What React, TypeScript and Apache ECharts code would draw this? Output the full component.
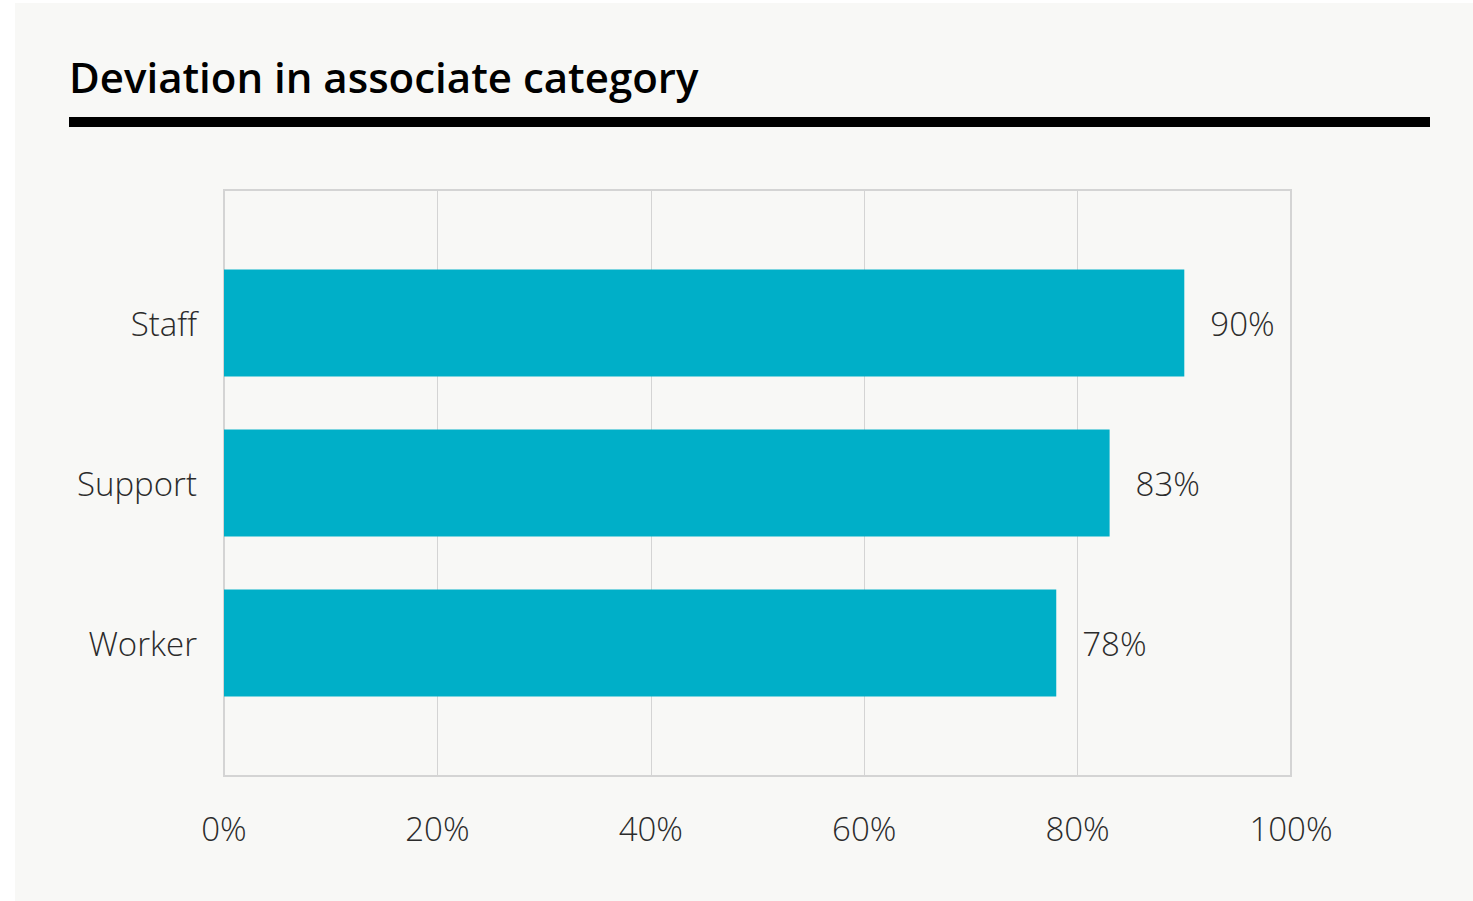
import React, { useEffect, useRef } from "react";
import * as echarts from "echarts";

const categories = ["Staff", "Support", "Worker"];
const values = [90, 83, 78];
const xTicks = [0, 20, 40, 60, 80, 100];
const titleText = "Deviation in associate category";

export default function App() {
  const ref = useRef<HTMLDivElement>(null);
  useEffect(() => {
    if (!ref.current) return;
    const chart = echarts.init(ref.current, undefined, { renderer: "svg" });
    const labelFont = { fontFamily: "Open Sans", fontWeight: 300 as any, fontSize: 33, color: "#2b2b2b" };
    chart.setOption({
      animation: false,
      backgroundColor: "#ffffff",
      graphic: [
        { type: "rect", z: -10, shape: { x: 15, y: 3, width: 1458, height: 898 }, style: { fill: "#f8f8f6" } },
        { type: "rect", z: 10, shape: { x: 69, y: 117, width: 1361, height: 10 }, style: { fill: "#000000" } },
        {
          type: "text", z: 10, x: 69, y: 55,
          style: { text: titleText, fontFamily: "Open Sans", fontWeight: 600, fontSize: 42, fill: "#000", verticalAlign: "top" },
        },
      ],
      grid: [
        { left: 224, top: 190, width: 1067, height: 586, show: true, borderColor: "#d4d4d4", borderWidth: 2, backgroundColor: "transparent" },
        { left: 224, top: 243, width: 1067, height: 480 },
      ],
      xAxis: [
        {
          type: "value", gridIndex: 0, min: xTicks[0], max: xTicks[xTicks.length - 1], interval: 20,
          axisLine: { show: false }, axisTick: { show: false },
          splitLine: { show: true, lineStyle: { color: "#d4d4d4", width: 1 } },
          axisLabel: { ...labelFont, margin: 36, formatter: "{value}%" },
        },
        { type: "value", gridIndex: 1, min: 0, max: 100, show: false },
      ],
      yAxis: [
        { type: "value", gridIndex: 0, show: false, splitLine: { show: false } },
        {
          type: "category", gridIndex: 1, data: categories, inverse: true,
          axisLine: { show: false }, axisTick: { show: false },
          axisLabel: { ...labelFont, margin: 27, padding: [4, 0, 0, 0] },
        },
      ],
      series: [
        {
          type: "bar", xAxisIndex: 1, yAxisIndex: 1, data: values,
          barWidth: 107,
          itemStyle: { color: "#00afc8" },
          label: { show: true, position: "right", distance: 26, formatter: "{c}%", ...labelFont, padding: [4, 0, 0, 0] },
        },
      ],
    });
    return () => chart.dispose();
  }, []);
  return <div ref={ref} style={{ position: "fixed", left: 0, top: 0, width: 1473, height: 901 }} />;
}
